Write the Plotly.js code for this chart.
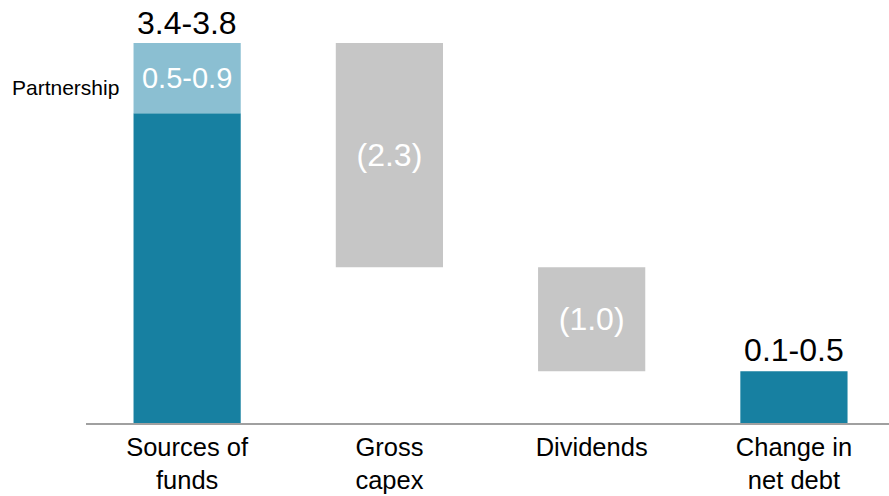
<!DOCTYPE html>
<html>
<head>
<meta charset="utf-8">
<script src="https://cdn.plot.ly/plotly-3.0.1.min.js"></script>
<style>html,body{margin:0;padding:0;background:#fff;}#chart{width:889px;height:496px;}</style>
</head>
<body>
<div id="chart"></div>
<script>
// Data (units: $bn)
const categories = ["Sources of<br>funds", "Gross<br>capex", "Dividends", "Change in<br>net debt"];
const sourcesTotal = 3.9;
const partnership = 0.72;
const coreSources = sourcesTotal - partnership;
const grossCapex = 2.3;
const dividends = 1.07;
const netDebtChange = sourcesTotal - grossCapex - dividends;
const labels = {total: "3.4-3.8", partnership: "0.5-0.9", capex: "(2.3)", dividends: "(1.0)", netDebt: "0.1-0.5"};

const teal = "#1780A1", lightBlue = "#8BBFD2", grey = "#C6C6C6";
const font = "Liberation Sans, Arial, sans-serif";
const barW = 0.53;

const traces = [
  {type: "bar", x: [categories[0]], y: [coreSources], base: [0], width: barW,
   marker: {color: teal}, hoverinfo: "skip"},
  {type: "bar", x: [categories[0]], y: [partnership], base: [coreSources], width: barW,
   marker: {color: lightBlue}, text: [labels.partnership], textposition: "inside", constraintext: "none",
   insidetextanchor: "middle", textfont: {color: "#fff", size: 29, family: font}, hoverinfo: "skip"},
  {type: "bar", x: [categories[1]], y: [grossCapex], base: [sourcesTotal - grossCapex], width: barW,
   marker: {color: grey}, text: [labels.capex], textposition: "inside", constraintext: "none",
   insidetextanchor: "middle", textfont: {color: "#fff", size: 32, family: font}, hoverinfo: "skip"},
  {type: "bar", x: [categories[2]], y: [dividends], base: [netDebtChange], width: barW,
   marker: {color: grey}, text: [labels.dividends], textposition: "inside", constraintext: "none",
   insidetextanchor: "middle", textfont: {color: "#fff", size: 32, family: font}, hoverinfo: "skip"},
  {type: "bar", x: [categories[3]], y: [netDebtChange], base: [0], width: barW,
   marker: {color: teal}, text: [labels.netDebt], textposition: "outside", constraintext: "none",
   textfont: {color: "#000", size: 32, family: font}, cliponaxis: false, hoverinfo: "skip"}
];

const layout = {
  width: 889, height: 496,
  margin: {l: 86, r: 0, t: 20, b: 73},
  paper_bgcolor: "#fff", plot_bgcolor: "#fff",
  barmode: "overlay", showlegend: false,
  font: {family: font, color: "#000"},
  xaxis: {type: "category", range: [-0.5, 3.47], showline: true, linecolor: "#A0A0A0", linewidth: 2,
          ticks: "", showgrid: false, zeroline: false, tickfont: {size: 25.5, color: "#000"},
          ticklabelstandoff: 0},
  yaxis: {range: [0, 4.137], visible: false, showgrid: false, zeroline: false},
  annotations: [
    {x: categories[0], y: sourcesTotal, xref: "x", yref: "y", text: labels.total, showarrow: false,
     yanchor: "bottom", yshift: 0, font: {size: 32, color: "#000"}},
    {x: -0.026, y: coreSources + partnership / 2, xref: "paper", yref: "y", text: "Partnership", showarrow: false,
     xanchor: "center", yshift: -9, font: {size: 21, color: "#000"}}
  ]
};

Plotly.newPlot("chart", traces, layout, {displayModeBar: false, staticPlot: true});
</script>
</body>
</html>
